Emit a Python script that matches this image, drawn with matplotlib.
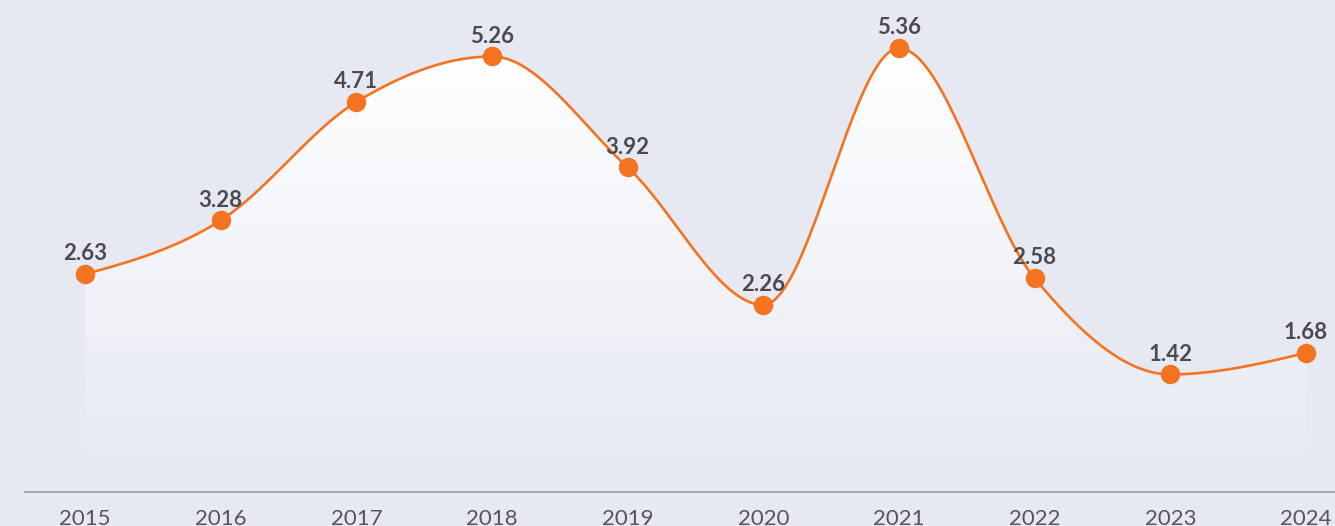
import numpy as np
import matplotlib.pyplot as plt
from matplotlib.path import Path
from matplotlib.patches import PathPatch
from matplotlib.colors import LinearSegmentedColormap

# 数据
years = [2015, 2016, 2017, 2018, 2019, 2020, 2021, 2022, 2023, 2024]
values = [2.63, 3.28, 4.71, 5.26, 3.92, 2.26, 5.36, 2.58, 1.42, 1.68]

bg = '#e6e9f2'
orange = '#f47320'
text_c = '#4b4b4f'

plt.rcParams['font.family'] = ['Lato', 'DejaVu Sans']


def monotone_curve(xs, ys, n=40):
    # 单调三次插值 (类似 d3.curveMonotoneX)
    x = np.array(xs, float)
    y = np.array(ys, float)
    h = np.diff(x)
    s = np.diff(y) / h
    cnt = len(x)
    m = np.zeros(cnt)
    for i in range(1, cnt - 1):
        p = (s[i - 1] * h[i] + s[i] * h[i - 1]) / (h[i - 1] + h[i])
        m[i] = (np.sign(s[i - 1]) + np.sign(s[i])) * min(abs(s[i - 1]), abs(s[i]), 0.5 * abs(p))
    m[0] = (3 * s[0] - m[1]) / 2
    m[-1] = (3 * s[-1] - m[-2]) / 2
    t = np.linspace(0, 1, n)[1:]
    ox, oy = [x[0]], [y[0]]
    for i in range(cnt - 1):
        dx = h[i] / 3
        c = [(x[i], y[i]), (x[i] + dx, y[i] + dx * m[i]), (x[i + 1] - dx, y[i + 1] - dx * m[i + 1]), (x[i + 1], y[i + 1])]
        bx = (1 - t) ** 3 * c[0][0] + 3 * (1 - t) ** 2 * t * c[1][0] + 3 * (1 - t) * t ** 2 * c[2][0] + t ** 3 * c[3][0]
        by = (1 - t) ** 3 * c[0][1] + 3 * (1 - t) ** 2 * t * c[1][1] + 3 * (1 - t) * t ** 2 * c[2][1] + t ** 3 * c[3][1]
        ox.extend(bx)
        oy.extend(by)
    return np.array(ox), np.array(oy)


fig = plt.figure(figsize=(13.35, 5.26), dpi=100, facecolor=bg)
ax = fig.add_axes([25 / 1335, 34 / 526, 1 - 25 / 1335, 1 - 34 / 526])
ax.set_facecolor(bg)

cx, cy = monotone_curve(years, values)

# 渐变填充
verts = list(zip(cx, cy)) + [(years[-1], 0), (years[0], 0)]
poly = PathPatch(Path(verts), facecolor='none', edgecolor='none')
ax.add_patch(poly)
cmap = LinearSegmentedColormap.from_list('g', [(0, bg), (0.05, bg), (1, '#ffffff')])
grad = np.linspace(0, 1, 256).reshape(-1, 1)
im = ax.imshow(grad, extent=[years[0], years[-1], 0, max(values)], origin='lower',
               cmap=cmap, aspect='auto', zorder=1)
im.set_clip_path(poly)

ax.plot(cx, cy, color=orange, lw=1.9, zorder=3, solid_capstyle='round')
ax.plot(years, values, 'o', color=orange, ms=13, zorder=4)

for x, y in zip(years, values):
    ax.annotate(f'{y:.2f}', (x, y), xytext=(0, 10), textcoords='offset points',
                ha='center', va='baseline', fontsize=16, fontweight='bold', color=text_c, zorder=5)

ax.set_xlim(2015 - 60 / 135.7, 2024 + 29 / 135.7)
ax.set_ylim(0, 492 / 82.8)
ax.set_xticks(years)
ax.set_xticklabels([str(y) for y in years])
ax.set_yticks([])
for s in ['top', 'right', 'left']:
    ax.spines[s].set_visible(False)
ax.spines['bottom'].set_color('#9b9b9b')
ax.spines['bottom'].set_linewidth(1.2)
ax.tick_params(axis='x', length=0, pad=12, labelsize=16, labelcolor='#55555a')

fig.savefig('out.png', dpi=100, facecolor=bg)
